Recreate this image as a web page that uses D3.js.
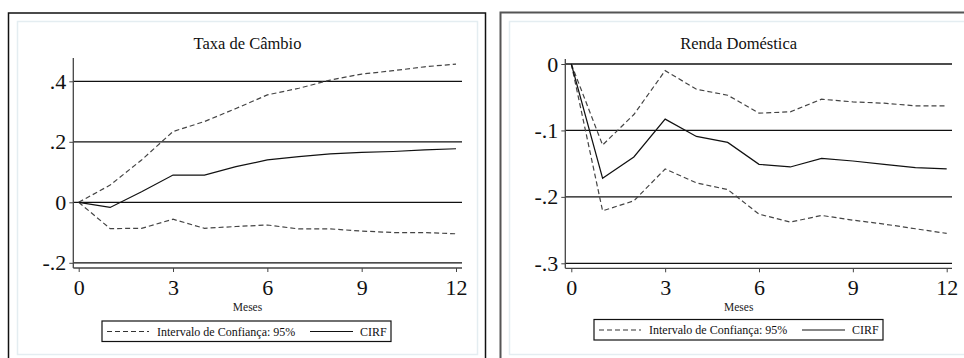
<!DOCTYPE html>
<html>
<head>
<meta charset="utf-8">
<script src="https://cdn.jsdelivr.net/npm/d3@7"></script>
<style>
  body { margin: 0; background: #fff; }
  svg { display: block; font-family: "Liberation Serif", "Times New Roman", serif; }
</style>
</head>
<body>
<div id="chart"></div>
<script>
// meses do horizonte da resposta
var months = [0, 1, 2, 3, 4, 5, 6, 7, 8, 9, 10, 11, 12];
var monthTicks = [0, 3, 6, 9, 12];

// Taxa de Câmbio
var taxaUpper = [0, 0.057, 0.14, 0.234, 0.267, 0.31, 0.355, 0.377, 0.404, 0.424, 0.435, 0.448, 0.457];
var taxaCirf  = [0, -0.017, 0.035, 0.09, 0.09, 0.118, 0.14, 0.151, 0.16, 0.165, 0.168, 0.173, 0.177];
var taxaLower = [0, -0.087, -0.086, -0.056, -0.086, -0.08, -0.075, -0.088, -0.088, -0.095, -0.1, -0.1, -0.104];
var taxaTicks = [-0.2, 0, 0.2, 0.4];

// Renda Doméstica
var rendaUpper = [0, -0.122, -0.076, -0.01, -0.038, -0.047, -0.074, -0.072, -0.053, -0.057, -0.059, -0.063, -0.063];
var rendaCirf  = [0, -0.172, -0.14, -0.083, -0.109, -0.118, -0.151, -0.155, -0.142, -0.146, -0.151, -0.156, -0.158];
var rendaLower = [0, -0.221, -0.206, -0.158, -0.179, -0.189, -0.226, -0.238, -0.228, -0.235, -0.241, -0.248, -0.255];
var rendaTicks = [-0.3, -0.2, -0.1, 0];

var legendLabels = ["Intervalo de Confiança: 95%", "CIRF"];

var svg = d3.select("#chart").append("svg")
  .attr("width", 964)
  .attr("height", 358);

function fmt(d) {
  if (d === 0) return "0";
  return String(d).replace("0.", ".");
}

function panel(opt) {
  var g = svg.append("g");

  // moldura externa e interna
  g.append("rect")
    .attr("x", opt.box[0]).attr("y", opt.box[1])
    .attr("width", opt.box[2]).attr("height", 400)
    .style("fill", "#fff")
    .style("stroke", opt.boxColor)
    .style("stroke-width", opt.boxWidth);
  g.append("rect")
    .attr("x", opt.inner[0]).attr("y", opt.inner[1])
    .attr("width", opt.inner[2]).attr("height", opt.inner[3])
    .style("fill", "#fff")
    .style("stroke", "#e4edf1")
    .style("stroke-width", 1.5);

  var x = d3.scaleLinear().domain([0, 12]).range(opt.xr);
  var y = d3.scaleLinear().domain(opt.yd).range(opt.yr);

  // linhas de grade
  g.selectAll(".grid").data(opt.ticks).enter().append("line")
    .attr("x1", opt.axisX).attr("x2", opt.gridEnd)
    .attr("y1", function(d) { return y(d); })
    .attr("y2", function(d) { return y(d); })
    .style("stroke", "#111")
    .style("stroke-width", 1.3);

  // eixo y
  var ya = g.append("g")
    .attr("transform", "translate(" + opt.axisX + ",0)")
    .call(d3.axisLeft(y).tickValues(opt.ticks).tickFormat(fmt).tickSize(4).tickPadding(3));
  ya.select(".domain").remove();
  ya.attr("font-family", null);
  ya.append("line")
    .attr("x1", 0).attr("x2", 0)
    .attr("y1", opt.axisTop).attr("y2", opt.axisBottom)
    .style("stroke", "#444").style("stroke-width", 1.3);
  ya.selectAll(".tick line").style("stroke", "#444");
  ya.selectAll("text")
    .style("font-family", "Liberation Serif, serif")
    .style("font-size", "22px")
    .style("fill", "#111");

  // eixo x
  var xa = g.append("g")
    .attr("transform", "translate(0," + opt.axisBottom + ")")
    .call(d3.axisBottom(x).tickValues(monthTicks).tickSize(4));
  xa.select(".domain").remove();
  xa.attr("font-family", null);
  xa.append("line")
    .attr("x1", opt.axisX).attr("x2", opt.gridEnd)
    .attr("y1", 0).attr("y2", 0)
    .style("stroke", "#444").style("stroke-width", 1.3);
  xa.selectAll(".tick line").style("stroke", "#444");
  xa.selectAll("text")
    .attr("y", 27).attr("dy", null)
    .style("font-family", "Liberation Serif, serif")
    .style("font-size", "22px")
    .style("fill", "#111");

  var cx = (opt.inner[0] + opt.center);

  g.append("text")
    .attr("x", cx).attr("y", 49)
    .attr("text-anchor", "middle")
    .style("font-size", "16.5px")
    .style("fill", "#111")
    .text(opt.title);

  g.append("text")
    .attr("x", cx).attr("y", 311)
    .attr("text-anchor", "middle")
    .style("font-size", "11.5px")
    .style("fill", "#222")
    .text("Meses");

  var line = d3.line()
    .x(function(d, i) { return x(months[i]); })
    .y(function(d) { return y(d); });

  [opt.upper, opt.lower].forEach(function(s) {
    g.append("path").datum(s)
      .attr("d", line)
      .style("fill", "none")
      .style("stroke", "#444")
      .style("stroke-width", 1.2)
      .style("stroke-dasharray", "5,3");
  });
  g.append("path").datum(opt.cirf)
    .attr("d", line)
    .style("fill", "none")
    .style("stroke", "#111")
    .style("stroke-width", 1.2);

  // legenda
  var lx = opt.legend[0], ly = opt.legend[1];
  var lg = g.append("g").attr("transform", "translate(" + lx + "," + ly + ")");
  lg.append("rect")
    .attr("width", 289).attr("height", 20.5)
    .style("fill", "#fff").style("stroke", "#111").style("stroke-width", 1.2);
  lg.append("line")
    .attr("x1", 5).attr("x2", 47).attr("y1", 10.5).attr("y2", 10.5)
    .style("stroke", "#333").style("stroke-width", 1.2).style("stroke-dasharray", "5,3");
  lg.append("line")
    .attr("x1", 208).attr("x2", 251).attr("y1", 10.5).attr("y2", 10.5)
    .style("stroke", "#111").style("stroke-width", 1.2);
  lg.append("text").attr("x", 55).attr("y", 14.5)
    .style("font-size", "12px").style("fill", "#111").text(legendLabels[0]);
  lg.append("text").attr("x", 258).attr("y", 14.5)
    .style("font-size", "12px").style("fill", "#111").text(legendLabels[1]);
}

panel({
  title: "Taxa de Câmbio",
  box: [8.5, 13, 477], boxColor: "#111", boxWidth: 1.5,
  inner: [17.5, 21.5, 460, 333], center: 230,
  xr: [78.7, 456], yd: [-0.2, 0.4], yr: [262.8, 81.3],
  ticks: taxaTicks, axisX: 73.3, gridEnd: 462, axisTop: 58, axisBottom: 268,
  upper: taxaUpper, cirf: taxaCirf, lower: taxaLower,
  legend: [102, 321]
});

panel({
  title: "Renda Doméstica",
  box: [500.5, 12.5, 500], boxColor: "#555", boxWidth: 2,
  inner: [509.5, 21.5, 500, 333], center: 229.2,
  xr: [571.3, 946.7], yd: [-0.3, 0], yr: [263.3, 64],
  ticks: rendaTicks, axisX: 565.3, gridEnd: 952, axisTop: 59, axisBottom: 268.3,
  upper: rendaUpper, cirf: rendaCirf, lower: rendaLower,
  legend: [594, 319.5]
});
</script>
</body>
</html>
